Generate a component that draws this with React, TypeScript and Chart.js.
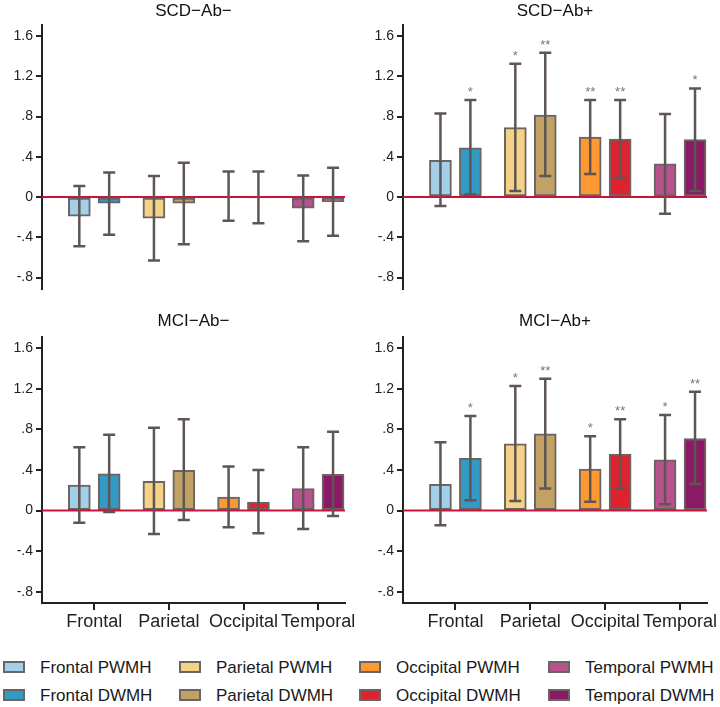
import React, { useEffect, useRef } from 'react';
import { Chart, registerables } from 'chart.js';

Chart.register(...registerables);

const FONT = "'Liberation Sans', Arial, Helvetica, sans-serif";

// ---------- data ----------
const regions = ['Frontal', 'Parietal', 'Occipital', 'Temporal'];
const wmhTypes = ['PWMH', 'DWMH'];
const seriesColors = ['#a3cfe9', '#3399c5', '#f5d386', '#c2a165', '#fd9933', '#de2330', '#b8528c', '#8b1966'];
const yTickValues = [-0.8, -0.4, 0, 0.4, 0.8, 1.2, 1.6];
const panelTitles = ['SCD\u2212Ab\u2212', 'SCD\u2212Ab+', 'MCI\u2212Ab\u2212', 'MCI\u2212Ab+'];

// series order: Frontal PWMH, Frontal DWMH, Parietal PWMH, Parietal DWMH,
//               Occipital PWMH, Occipital DWMH, Temporal PWMH, Temporal DWMH
const scdNegMean = [-0.19, -0.06, -0.21, -0.06, 0.0, -0.005, -0.11, -0.045];
const scdNegLow = [-0.49, -0.375, -0.63, -0.47, -0.235, -0.26, -0.44, -0.385];
const scdNegHigh = [0.11, 0.245, 0.21, 0.34, 0.255, 0.255, 0.215, 0.29];
const scdNegSig = ['', '', '', '', '', '', '', ''];

const scdPosMean = [0.365, 0.49, 0.69, 0.815, 0.595, 0.575, 0.33, 0.57];
const scdPosLow = [-0.09, 0.025, 0.06, 0.21, 0.23, 0.19, -0.165, 0.06];
const scdPosHigh = [0.83, 0.965, 1.325, 1.435, 0.965, 0.965, 0.825, 1.08];
const scdPosSig = ['', '*', '*', '**', '**', '**', '', '*'];

const mciNegMean = [0.252, 0.363, 0.288, 0.396, 0.134, 0.085, 0.216, 0.357];
const mciNegLow = [-0.12, -0.013, -0.23, -0.092, -0.164, -0.222, -0.18, -0.052];
const mciNegHigh = [0.625, 0.746, 0.815, 0.9, 0.435, 0.4, 0.625, 0.776];
const mciNegSig = ['', '', '', '', '', '', '', ''];

const mciPosMean = [0.258, 0.514, 0.658, 0.756, 0.409, 0.556, 0.5, 0.71];
const mciPosLow = [-0.144, 0.101, 0.095, 0.219, 0.088, 0.219, 0.062, 0.262];
const mciPosHigh = [0.674, 0.933, 1.227, 1.3, 0.733, 0.9, 0.942, 1.171];
const mciPosSig = ['', '*', '*', '**', '*', '**', '*', '**'];

// ---------- styles / layout ----------
const groupOffsets = [-0.2, 0.2];
const xMin = -0.7;
const xMax = 3.36;
const yMin = -0.91;
const yMax = 1.71;
const axisColor = '#222222';
const barBorder = '#6b6462';
const errColor = '#5e5654';
const zeroColor = '#c8143c';

type PanelDef = {
  title: string;
  mean: number[];
  low: number[];
  high: number[];
  sig: string[];
  left: number;
  top: number;
  width: number;
  height: number;
  yAxisWidth: number;
  padRight: number;
  padBottom: number;
  titleTop: number;
  titleBottom: number;
  showX: boolean;
};

const panels: PanelDef[] = [
  { title: panelTitles[0], mean: scdNegMean, low: scdNegLow, high: scdNegHigh, sig: scdNegSig,
    left: 0, top: 0, width: 360, height: 300, yAxisWidth: 42, padRight: 15, padBottom: 7, titleTop: 1, titleBottom: 3.6, showX: false },
  { title: panelTitles[1], mean: scdPosMean, low: scdPosLow, high: scdPosHigh, sig: scdPosSig,
    left: 360, top: 0, width: 360, height: 300, yAxisWidth: 43, padRight: 13, padBottom: 7, titleTop: 1, titleBottom: 3.6, showX: false },
  { title: panelTitles[2], mean: mciNegMean, low: mciNegLow, high: mciNegHigh, sig: mciNegSig,
    left: 0, top: 300, width: 360, height: 335, yAxisWidth: 42, padRight: 15, padBottom: 0, titleTop: 11, titleBottom: 5.6, showX: true },
  { title: panelTitles[3], mean: mciPosMean, low: mciPosLow, high: mciPosHigh, sig: mciPosSig,
    left: 360, top: 300, width: 360, height: 335, yAxisWidth: 43, padRight: 13, padBottom: 0, titleTop: 11, titleBottom: 5.6, showX: true },
];

const fmtTick = (v: number) => {
  if (Math.abs(v) < 1e-9) return '0';
  return v.toFixed(1).replace(/^(-?)0\./, '$1.');
};

function Panel(p: PanelDef) {
  const ref = useRef<HTMLCanvasElement>(null);
  useEffect(() => {
    const canvas = ref.current;
    if (!canvas) return;
    const errorBars = {
      id: 'errorBars',
      afterDatasetsDraw(chart: any) {
        const { ctx, chartArea, scales } = chart;
        const ys = scales.y;
        const y0 = ys.getPixelForValue(0);
        ctx.save();
        ctx.strokeStyle = zeroColor;
        ctx.lineWidth = 2;
        ctx.beginPath();
        ctx.moveTo(chartArea.left, y0);
        ctx.lineTo(chartArea.right, y0);
        ctx.stroke();
        chart.data.datasets.forEach((_ds: any, k: number) => {
          const bar = chart.getDatasetMeta(k).data[0];
          if (!bar) return;
          const x = bar.x;
          const yl = ys.getPixelForValue(p.low[k]);
          const yh = ys.getPixelForValue(p.high[k]);
          const cap = 6;
          ctx.strokeStyle = errColor;
          ctx.lineWidth = 2.5;
          ctx.beginPath();
          ctx.moveTo(x, yl);
          ctx.lineTo(x, yh);
          ctx.moveTo(x - cap, yl);
          ctx.lineTo(x + cap, yl);
          ctx.moveTo(x - cap, yh);
          ctx.lineTo(x + cap, yh);
          ctx.stroke();
          if (p.sig[k]) {
            ctx.fillStyle = '#777777';
            ctx.font = `13px ${FONT}`;
            ctx.textAlign = 'center';
            ctx.textBaseline = 'alphabetic';
            ctx.fillText(p.sig[k], x, yh - 4);
          }
        });
        ctx.restore();
      },
    };

    const chart = new Chart(canvas, {
      type: 'bar',
      data: {
        datasets: seriesColors.map((c, k) => ({
          label: `${regions[Math.floor(k / 2)]} ${wmhTypes[k % 2]}`,
          data: [{ x: Math.floor(k / 2) + groupOffsets[k % 2], y: p.mean[k] }],
          backgroundColor: c,
          borderColor: barBorder,
          borderWidth: 2,
          borderSkipped: false,
          barThickness: 22,
          grouped: false,
        })) as any,
      },
      options: {
        responsive: false,
        animation: false,
        events: [],
        layout: { padding: { left: 0, right: p.padRight, top: 0, bottom: p.padBottom } },
        plugins: {
          legend: { display: false },
          tooltip: { enabled: false },
          title: {
            display: true,
            text: p.title,
            fullSize: false,
            color: '#111111',
            font: { family: FONT, size: 17, weight: 'normal', lineHeight: 1.2 },
            padding: { top: p.titleTop, bottom: p.titleBottom },
          },
        },
        scales: {
          x: {
            type: 'linear',
            min: xMin,
            max: xMax,
            bounds: 'data',
            offset: false,
            display: p.showX,
            afterBuildTicks: (s: any) => {
              s.ticks = regions.map((_r, i) => ({ value: i }));
            },
            afterFit: (s: any) => {
              if (p.showX) s.height = 32;
            },
            ticks: {
              autoSkip: false,
              maxRotation: 0,
              minRotation: 0,
              padding: 1,
              color: axisColor,
              font: { family: FONT, size: 18 },
              callback: (v: any) => regions[Math.round(Number(v))] ?? '',
            },
            grid: {
              display: true,
              offset: false,
              drawOnChartArea: false,
              drawTicks: true,
              tickLength: 7,
              color: axisColor,
              lineWidth: 2,
            },
            border: { display: true, color: axisColor, width: 2 },
          } as any,
          y: {
            type: 'linear',
            min: yMin,
            max: yMax,
            bounds: 'data',
            afterBuildTicks: (s: any) => {
              s.ticks = yTickValues.map((v) => ({ value: v }));
            },
            afterFit: (s: any) => {
              s.width = p.yAxisWidth;
            },
            ticks: {
              padding: 3,
              color: axisColor,
              font: { family: FONT, size: 14 },
              callback: (v: any) => fmtTick(Number(v)),
            },
            grid: {
              display: true,
              drawOnChartArea: false,
              drawTicks: true,
              tickLength: 6,
              color: axisColor,
              lineWidth: 2,
            },
            border: { display: true, color: axisColor, width: 2 },
          } as any,
        },
      },
      plugins: [errorBars],
    });
    return () => chart.destroy();
  }, []);
  return (
    <canvas
      ref={ref}
      width={p.width}
      height={p.height}
      style={{ position: 'absolute', left: p.left, top: p.top, width: p.width, height: p.height }}
    />
  );
}

function Legend() {
  const items = seriesColors.map((c, k) => ({ color: c, label: `${regions[Math.floor(k / 2)]} ${wmhTypes[k % 2]}` }));
  return (
    <div
      style={{
        position: 'absolute',
        left: 3,
        top: 653,
        display: 'grid',
        gridTemplateColumns: '176px 180px 189px auto',
        gridTemplateRows: '28px 28px',
        gridAutoFlow: 'column',
        fontFamily: FONT,
        fontSize: 17,
        color: '#1a1a1a',
      }}
    >
      {items.map((it) => (
        <div key={it.label} style={{ display: 'flex', alignItems: 'center', height: 28 }}>
          <span
            style={{
              display: 'inline-block',
              width: 22,
              height: 12,
              boxSizing: 'border-box',
              border: `2px solid ${barBorder}`,
              background: it.color,
              marginRight: 15,
            }}
          />
          <span style={{ lineHeight: 1, whiteSpace: 'nowrap' }}>{it.label}</span>
        </div>
      ))}
    </div>
  );
}

export default function App() {
  return (
    <div style={{ position: 'absolute', left: 0, top: 0, width: 720, height: 707, background: '#ffffff' }}>
      {panels.map((p) => (
        <Panel key={p.title} {...p} />
      ))}
      <Legend />
    </div>
  );
}
